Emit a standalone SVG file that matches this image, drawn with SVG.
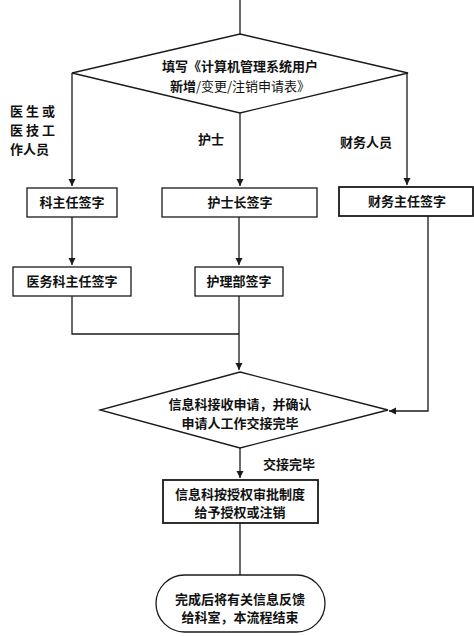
<svg xmlns="http://www.w3.org/2000/svg" width="474" height="636" viewBox="0 0 474 636">
<style>
.s{fill:#fff;stroke:#1a1a1a;stroke-width:1.3}
.c{fill:none;stroke:#1a1a1a;stroke-width:1.3}
text{font-family:"Noto Sans CJK SC","Noto Sans",sans-serif;font-size:13px;font-weight:bold;fill:#111}
.m{text-anchor:middle}
.n{font-weight:normal}
</style>
<defs>
<marker id="a" markerWidth="8" markerHeight="8" refX="7" refY="4" orient="auto" markerUnits="userSpaceOnUse">
<path d="M0,0.5 L7,4 L0,7.5 Z" fill="#1a1a1a"/>
</marker>
</defs>
<rect width="474" height="636" fill="#fff"/>
<g id="connectors">
<path class="c" d="M240,0 V34"/>
<path class="c" d="M72,73 V186" marker-end="url(#a)"/>
<path class="c" d="M240,113 V186" marker-end="url(#a)"/>
<path class="c" d="M407,73 V185" marker-end="url(#a)"/>
<path class="c" d="M72,217 V265" marker-end="url(#a)"/>
<path class="c" d="M239,217 V265" marker-end="url(#a)"/>
<path class="c" d="M72,296 V334 H239"/>
<path class="c" d="M239,296 V370" marker-end="url(#a)"/>
<path class="c" d="M428,216 V411 H389" marker-end="url(#a)"/>
<path class="c" d="M240,448 V478" marker-end="url(#a)"/>
<path class="c" d="M240,523 V575"/>
</g>
<g id="n1">
<path class="s" d="M240,34 L408,73 L240,113 L72,73 Z"/>
<text class="m" x="240" y="71">填写《计算机管理系统用户</text>
<text class="m" x="240" y="91">新增<tspan class="n">/变更/注销申请表》</tspan></text>
</g>
<g id="lbl1">
<text x="10" y="116" letter-spacing="3">医生或</text>
<text x="10" y="135" letter-spacing="3">医技工</text>
<text x="10" y="154">作人员</text>
</g>
<g id="lbl2"><text x="198" y="144">护士</text></g>
<g id="lbl3"><text x="340" y="147">财务人员</text></g>
<g id="n2">
<rect class="s" x="27" y="188" width="90" height="29"/>
<text class="m" x="72" y="207">科主任签字</text>
</g>
<g id="n3">
<rect class="s" x="162" y="188" width="155" height="29"/>
<text class="m" x="240" y="207">护士长签字</text>
</g>
<g id="n4">
<rect class="s" x="339" y="187" width="134" height="29" style="stroke-width:1.8"/>
<text class="m" x="407" y="206">财务主任签字</text>
</g>
<g id="n5">
<rect class="s" x="13" y="267" width="118" height="29"/>
<text class="m" x="72" y="286">医务科主任签字</text>
</g>
<g id="n6">
<rect class="s" x="195" y="267" width="88" height="29"/>
<text class="m" x="239" y="286">护理部签字</text>
</g>
<g id="n7">
<path class="s" d="M240,372 L388,410 L240,448 L100,410 Z"/>
<text class="m" x="240" y="409">信息科接收申请，并确认</text>
<text class="m" x="240" y="428">申请人工作交接完毕</text>
</g>
<g id="lbl4"><text x="263" y="469">交接完毕</text></g>
<g id="n8">
<rect class="s" x="163" y="480" width="155" height="43" style="stroke-width:1.8"/>
<text class="m" x="240" y="499">信息科按授权审批制度</text>
<text class="m" x="240" y="517">给予授权或注销</text>
</g>
<g id="n9">
<rect class="s" x="156" y="575" width="169" height="57" rx="28.5" ry="28.5"/>
<text class="m" x="240" y="604">完成后将有关信息反馈</text>
<text class="m" x="240" y="622">给科室，本流程结束</text>
</g>
</svg>
